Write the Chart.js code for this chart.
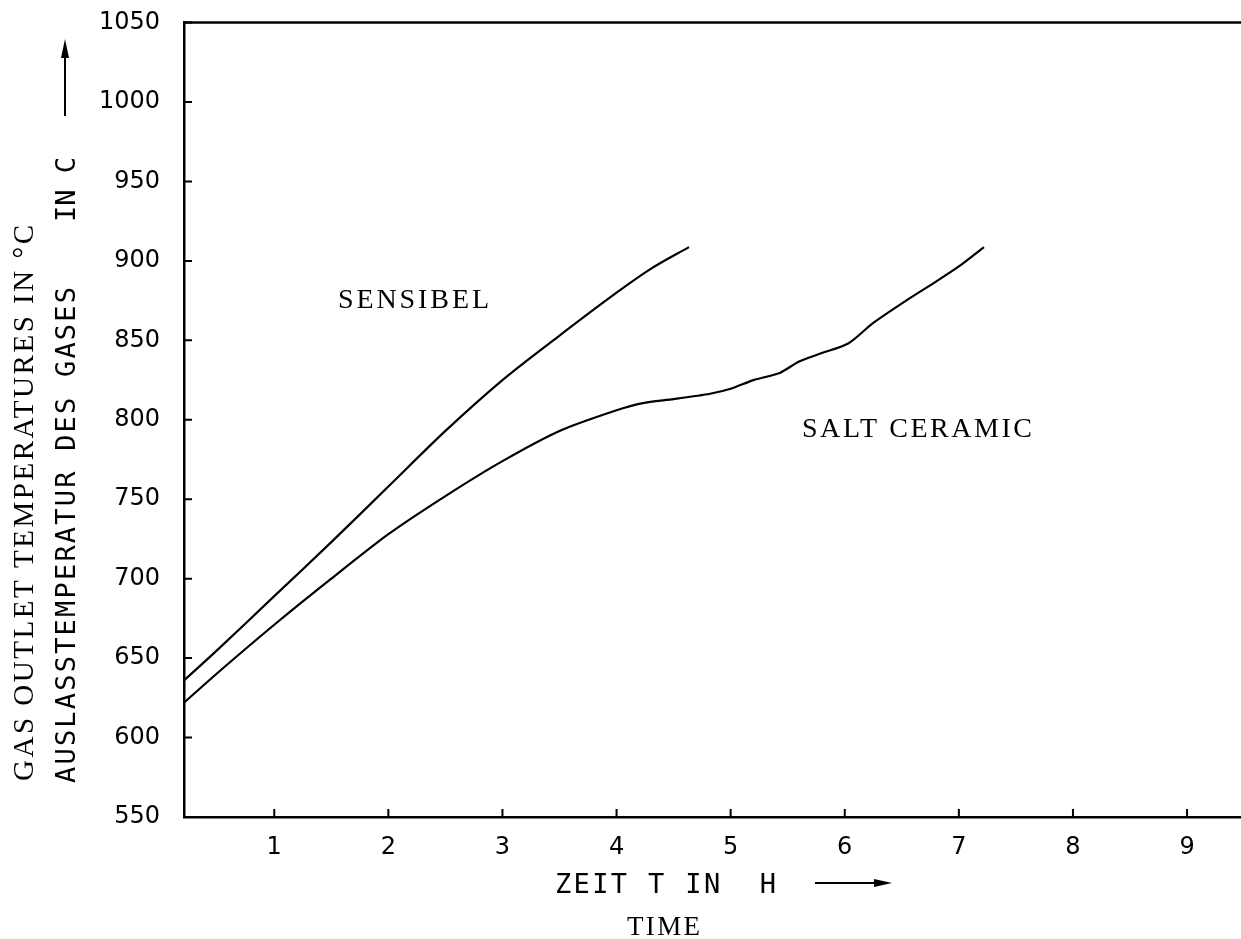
<!DOCTYPE html>
<html>
<head>
<meta charset="utf-8">
<script src="https://cdn.jsdelivr.net/npm/chart.js@4.4.1/dist/chart.umd.min.js"></script>
<style>
  html, body { margin: 0; padding: 0; background: #fff; }
  #wrap { position: relative; width: 1241px; height: 939px; }
  canvas { display: block; }
</style>
</head>
<body>
<div id="wrap"><canvas id="c" width="1241" height="939"></canvas></div>
<script>
// ---- data ----
const xTicks = [1, 2, 3, 4, 5, 6, 7, 8, 9];
const yTicks = [550, 600, 650, 700, 750, 800, 850, 900, 950, 1000, 1050];

const sensibelTime = [0.21, 0.5, 1.0, 1.5, 2.0, 2.5, 3.0, 3.5, 4.0, 4.3, 4.635];
const sensibelTemp = [636, 655, 689, 723, 758, 793, 825, 853, 880, 895, 908.7];

const saltTime = [0.21, 0.5, 1.0, 1.5, 2.0, 2.5, 3.0, 3.5, 4.0, 4.23, 4.5, 4.82, 5.0, 5.2, 5.43, 5.6, 5.8, 6.03, 6.25, 6.55, 6.8, 7.0, 7.22];
const saltTemp = [622, 640.5, 671, 700, 728, 752, 774, 793, 806, 810.5, 813, 816.4, 819.5, 825, 829.5, 836.7, 842, 848, 861, 875.6, 887, 896.5, 908.7];

const seriesLabels = ['SENSIBEL', 'SALT CERAMIC'];
const yTitle1 = 'GAS OUTLET TEMPERATURES IN °C';
const yTitle2a = 'AUSLASSTEMPERATUR DES GASES';
const yTitle2b = 'IN C';
const xTitle1 = 'ZEIT T IN  H';
const xTitle2 = 'TIME';

const toPts = (xs, ys) => xs.map((x, i) => ({ x: x, y: ys[i] }));

// draw text stretched to a given length (monospace-like pitch)
function fitText(ctx, text, x, y, length, font, rotate) {
  ctx.save();
  ctx.font = font;
  ctx.fillStyle = '#000';
  ctx.textBaseline = 'alphabetic';
  ctx.textAlign = 'left';
  const w = ctx.measureText(text).width;
  const n = text.length;
  if ('letterSpacing' in ctx && n > 1) {
    ctx.letterSpacing = ((length - w) / (n - 1)) + 'px';
  }
  ctx.translate(x, y);
  if (rotate) ctx.rotate(-Math.PI / 2);
  ctx.fillText(text, 0, 0);
  ctx.restore();
}

const decor = {
  id: 'decor',
  afterDraw(chart) {
    const ctx = chart.ctx;
    const a = chart.chartArea;
    const xs = chart.scales.x, ys = chart.scales.y;
    ctx.save();
    ctx.strokeStyle = '#000';
    // top border
    ctx.lineWidth = 2.5;
    ctx.beginPath();
    ctx.moveTo(a.left - 1, a.top);
    ctx.lineTo(a.right + 2, a.top);
    ctx.stroke();
    // inward tick marks
    ctx.lineWidth = 2;
    ctx.beginPath();
    yTicks.forEach(v => {
      const py = ys.getPixelForValue(v);
      ctx.moveTo(a.left, py); ctx.lineTo(a.left + 8, py);
    });
    xTicks.forEach(v => {
      const px = xs.getPixelForValue(v);
      ctx.moveTo(px, a.bottom); ctx.lineTo(px, a.bottom - 8);
    });
    ctx.stroke();

    // series labels
    const serif = 'Liberation Serif, DejaVu Serif, serif';
    fitText(ctx, seriesLabels[0], 338, 308, 151, '28px ' + serif, false);
    fitText(ctx, seriesLabels[1], 802, 437, 230, '28px ' + serif, false);

    // axis titles
    const mono = '"DejaVu Sans Mono", "Liberation Mono", monospace';
    fitText(ctx, xTitle1, 555, 893, 221, '27px ' + mono, false);
    fitText(ctx, xTitle2, 627, 935, 73, '27px ' + serif, false);
    fitText(ctx, yTitle1, 33, 781, 556, '29px ' + serif, true);
    fitText(ctx, yTitle2a, 75, 783, 496, '27px ' + mono, true);
    fitText(ctx, yTitle2b, 75, 222, 65, '27px ' + mono, true);

    // arrows
    ctx.fillStyle = '#000';
    ctx.lineWidth = 2;
    ctx.beginPath();
    ctx.moveTo(815, 883); ctx.lineTo(878, 883);
    ctx.stroke();
    ctx.beginPath();
    ctx.moveTo(892, 883); ctx.lineTo(874, 879); ctx.lineTo(874, 887); ctx.closePath();
    ctx.fill();

    ctx.beginPath();
    ctx.moveTo(65, 116); ctx.lineTo(65, 54);
    ctx.stroke();
    ctx.beginPath();
    ctx.moveTo(65, 39); ctx.lineTo(61, 58); ctx.lineTo(69, 58); ctx.closePath();
    ctx.fill();
    ctx.restore();
  }
};

new Chart(document.getElementById('c'), {
  type: 'line',
  data: {
    datasets: [
      { label: seriesLabels[0], data: toPts(sensibelTime, sensibelTemp), borderColor: '#000', borderWidth: 2.2, pointRadius: 0, tension: 0.3, fill: false },
      { label: seriesLabels[1], data: toPts(saltTime, saltTemp), borderColor: '#000', borderWidth: 2.2, pointRadius: 0, tension: 0.25, fill: false }
    ]
  },
  options: {
    responsive: false,
    animation: false,
    events: [],
    layout: { padding: { top: 22.6, right: 1, left: 0, bottom: 0 } },
    plugins: { legend: { display: false }, tooltip: { enabled: false }, title: { display: false } },
    scales: {
      x: {
        type: 'linear',
        min: 0.209, max: 9.464,
        afterBuildTicks: s => { s.ticks = xTicks.map(v => ({ value: v })); },
        afterFit: s => { s.height = 939 - 817; s.paddingLeft = 0; s.paddingRight = 0; },
        grid: { display: false, drawTicks: false },
        border: { display: true, color: '#000', width: 2.5 },
        ticks: { color: '#000', padding: 16, font: { family: 'DejaVu Sans', size: 24 }, maxRotation: 0, autoSkip: false, callback: v => String(v) }
      },
      y: {
        type: 'linear',
        min: 550, max: 1050,
        afterBuildTicks: s => { s.ticks = yTicks.map(v => ({ value: v })); },
        afterFit: s => { s.width = 184; s.paddingTop = 0; s.paddingBottom = 0; },
        grid: { display: false, drawTicks: false },
        border: { display: true, color: '#000', width: 2.5 },
        ticks: { color: '#000', padding: 24, font: { family: 'DejaVu Sans', size: 24 }, autoSkip: false, callback: v => String(v) }
      }
    }
  },
  plugins: [decor]
});
</script>
</body>
</html>
